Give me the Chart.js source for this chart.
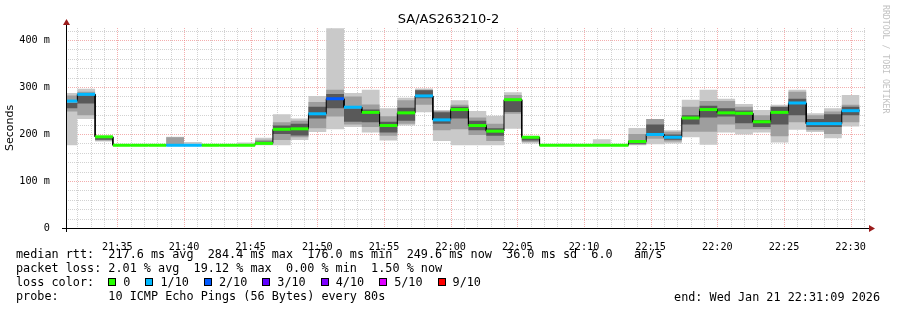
<!DOCTYPE html>
<html>
<head>
<meta charset="utf-8">
<title>SA/AS263210-2</title>
<script src="https://cdn.jsdelivr.net/npm/chart.js@4.4.1/dist/chart.umd.min.js"></script>
<style>
  html, body { margin: 0; padding: 0; background: #fff; }
  #wrap { position: relative; width: 897px; height: 310px; overflow: hidden; }
  #wrap canvas { position: absolute; left: 0; top: 0; }
  .title { position: absolute; left: 0; top: 11px; width: 897px; text-align: center;
           font: 13px 'DejaVu Sans', sans-serif; line-height: 16px; color: #000; }
  .legend { position: absolute; left: 16px; top: 247px; font: 11.8px 'DejaVu Sans Mono', monospace;
            line-height: 14.15px; white-space: pre; color: #000; }
  .legend .box { display: inline-block; width: 6px; height: 6px; border: 1px solid #000;
                 vertical-align: middle; margin: 0 7px 0 0; position: relative; top: -1px; }
  .legend .lbl { margin-right: 15px; }
  .end { position: absolute; right: 17px; top: 289.5px; font: 11.8px 'DejaVu Sans Mono', monospace;
         line-height: 14.15px; white-space: pre; color: #000; }
  .mark { position: absolute; left: 881px; top: 5px; writing-mode: vertical-rl;
          font: 8.2px 'DejaVu Sans Mono', monospace; color: #c2c2c2; white-space: pre; }
</style>
</head>
<body>
<div id="wrap">
  <canvas id="smoke" width="897" height="310"></canvas>
  <div class="title">SA/AS263210-2</div>
  <div class="mark">RRDTOOL / TOBI OETIKER</div>
  <div class="legend" id="legend"></div>
  <div class="end">end: Wed Jan 21 22:31:09 2026</div>
</div>
<script>
// smokeping style latency graph, one probe step = 80 s

const CHART_START = '21:31:09';
const CHART_SPAN = 3600;          // seconds on the x axis
const STEP = 80;                  // probe interval
const FIRST_STEP_END = '21:32:00';
const Y_MAX = 425.5;              // ms

const xTickLabels = ['21:35', '21:40', '21:45', '21:50', '21:55', '22:00',
                     '22:05', '22:10', '22:15', '22:20', '22:25', '22:30'];
const yTickValues = [0, 100, 200, 300, 400];
const yTickLabels = ['0', '100 m', '200 m', '300 m', '400 m'];

// median rtt per step (ms)
const medianMs = [270, 284.4, 194, 176, 176, 176, 176, 176, 176, 176,
                  176, 180, 210, 211, 243, 275, 257, 246, 218, 245,
                  281, 230, 252, 218, 206, 273, 193, 176, 176, 176,
                  176, 176, 184, 199, 193, 234, 252, 245, 244, 226,
                  246, 266, 222, 222, 249.6];
// lost pings out of 10 per step
const lossTenths = [1, 1, 0, 0, 0, 0, 1, 1, 0, 0,
                    0, 0, 0, 0, 1, 2, 1, 0, 0, 0,
                    1, 1, 0, 0, 0, 0, 0, 0, 0, 0,
                    0, 0, 0, 1, 1, 0, 0, 0, 0, 0,
                    0, 1, 1, 1, 1];
// smoke: spread of the individual pings (outer = all, mid, core = around median)
const smokeOuterLo = [176, 232, 184, 176, 176, 176, 176, 176, 176, 176,
                      176, 176, 176, 187, 204, 210, 215, 203, 186, 218,
                      246, 185, 176, 176, 176, 211, 180, 176, 176, 176,
                      176, 176, 176, 178, 180, 193, 177, 203, 199, 203,
                      182, 209, 204, 191, 216];
const smokeOuterHi = [287, 296, 196, 176, 176, 176, 194, 183, 176, 176,
                      182, 192, 242, 233, 281, 425, 287, 294, 255, 277,
                      297, 251, 272, 249, 239, 289, 196, 176, 179, 176,
                      189, 176, 213, 232, 208, 273, 294, 275, 264, 251,
                      262, 294, 244, 255, 283];
const smokeMidLo = [248, 240, 186, 176, 176, 176, 176, 176, 176, 176,
                    176, 178, 187, 193, 212, 237, 220, 215, 196, 222,
                    262, 208, 210, 198, 185, 243, 183, 176, 176, 176,
                    176, 176, 177, 190, 184, 205, 205, 220, 210, 210,
                    195, 225, 208, 200, 225];
const smokeMidHi = [282, 290, 195, 176, 176, 176, 193, 176, 176, 176,
                    176, 188, 225, 228, 268, 294, 280, 263, 238, 272,
                    294, 249, 262, 235, 222, 283, 194, 176, 176, 176,
                    176, 176, 200, 232, 205, 258, 270, 270, 258, 240,
                    258, 290, 240, 248, 262];
const smokeCoreLo = [255, 265, 188, 176, 176, 176, 176, 176, 176, 176,
                     176, 179, 200, 197, 233, 255, 226, 225, 203, 228,
                     276, 222, 233, 208, 196, 247, 186, 176, 176, 176,
                     176, 176, 179, 200, 188, 220, 235, 237, 223, 215,
                     220, 240, 215, 215, 240];
const smokeCoreHi = [266, 282, 193, 176, 176, 176, 176, 176, 176, 176,
                     176, 184, 218, 222, 258, 285, 254, 252, 226, 256,
                     293, 246, 258, 228, 212, 270, 192, 176, 176, 176,
                     176, 176, 186, 220, 199, 240, 260, 255, 250, 230,
                     258, 275, 232, 242, 258];

const LOSS_COLORS = { 0: '#26ff00', 1: '#00b8ff', 2: '#0059ff', 3: '#5e00ff',
                      4: '#7e00ff', 5: '#dd00ff', 9: '#ff0000' };
const legendLoss = [0, 1, 2, 3, 4, 5, 9];

function toSec(hms) {
  const p = hms.split(':').map(Number);
  return p[0] * 3600 + p[1] * 60 + (p[2] || 0);
}
const t0 = toSec(CHART_START);
const firstEnd = toSec(FIRST_STEP_END) - t0;

function stepStart(k) { return Math.max(0, firstEnd + (k - 1) * STEP); }
function stepEnd(k) { return firstEnd + k * STEP; }

// two points per step so the line holds the value across the whole interval
function stepSeries(values) {
  const pts = [];
  values.forEach((v, k) => {
    pts.push({ x: stepStart(k), y: v }, { x: stepEnd(k), y: v });
  });
  return pts;
}

function band(hi, lo, color, order) {
  const common = { borderWidth: 0, borderColor: 'transparent', pointRadius: 0, tension: 0, order };
  return [
    { ...common, data: stepSeries(hi), fill: false },
    { ...common, data: stepSeries(lo), fill: '-1', backgroundColor: color },
  ];
}

// rrdtool-ish dotted grid + arrowed axes
const MAJOR_GRID = 'rgba(235,120,120,0.6)';
const MINOR_GRID = 'rgba(165,165,165,0.5)';

const rrdGrid = {
  id: 'rrdGrid',
  beforeDatasetsDraw(chart) {
    const { ctx, chartArea: a, scales: { x, y } } = chart;
    ctx.save();
    ctx.lineWidth = 1;
    ctx.setLineDash([1, 1]);
    for (let v = 20; v <= Y_MAX; v += 20) {
      const py = Math.round(y.getPixelForValue(v)) + 0.5;
      ctx.strokeStyle = v % 100 === 0 ? MAJOR_GRID : MINOR_GRID;
      ctx.beginPath(); ctx.moveTo(a.left, py); ctx.lineTo(a.right, py); ctx.stroke();
    }
    const firstMin = Math.ceil(t0 / 60) * 60 - t0;
    for (let t = firstMin; t < CHART_SPAN; t += 60) {
      const px = Math.round(x.getPixelForValue(t)) + 0.5;
      const minute = Math.round((t0 + t) / 60) % 60;
      ctx.strokeStyle = minute % 5 === 0 ? MAJOR_GRID : MINOR_GRID;
      ctx.beginPath(); ctx.moveTo(px, a.top); ctx.lineTo(px, a.bottom); ctx.stroke();
    }
    ctx.restore();
  },
  afterDraw(chart) {
    const { ctx, chartArea: a } = chart;
    const bx = Math.round(a.bottom) + 0.5;
    const lx = Math.round(a.left) + 0.5;
    ctx.save();
    ctx.strokeStyle = '#000';
    ctx.lineWidth = 1;
    ctx.beginPath();
    ctx.moveTo(a.left - 4, bx); ctx.lineTo(a.right + 3, bx);
    ctx.moveTo(lx, a.bottom + 4); ctx.lineTo(lx, a.top - 3);
    ctx.stroke();
    ctx.fillStyle = '#9b1c1c';
    ctx.beginPath();
    ctx.moveTo(a.right + 3, bx - 3.5); ctx.lineTo(a.right + 9, bx); ctx.lineTo(a.right + 3, bx + 3.5);
    ctx.closePath(); ctx.fill();
    ctx.beginPath();
    ctx.moveTo(lx - 3.5, a.top - 3); ctx.lineTo(lx, a.top - 9); ctx.lineTo(lx + 3.5, a.top - 3);
    ctx.closePath(); ctx.fill();
    ctx.restore();
  },
};

const axisFont = { family: "'DejaVu Sans Mono', monospace", size: 10.2 };

new Chart(document.getElementById('smoke'), {
  type: 'line',
  data: {
    datasets: [
      ...band(smokeOuterHi, smokeOuterLo, '#c9c9c9', 5),
      ...band(smokeMidHi, smokeMidLo, '#9e9e9e', 4),
      ...band(smokeCoreHi, smokeCoreLo, '#595959', 3),
      {
        data: stepSeries(medianMs), borderColor: '#000', borderWidth: 1,
        pointRadius: 0, tension: 0, fill: false, order: 1,
      },
      {
        data: stepSeries(medianMs), borderWidth: 3, borderCapStyle: 'butt',
        pointRadius: 0, tension: 0, fill: false, order: 0,
        segment: {
          borderColor: (c) => c.p0DataIndex % 2 === 0
            ? LOSS_COLORS[lossTenths[c.p0DataIndex / 2]] : 'transparent',
        },
      },
    ],
  },
  options: {
    responsive: false,
    animation: false,
    events: [],
    layout: { padding: { top: 28, right: 31, left: 0, bottom: 0 } },
    plugins: { legend: { display: false }, tooltip: { enabled: false } },
    scales: {
      x: {
        type: 'linear', min: 0, max: CHART_SPAN,
        grid: { display: false }, border: { display: false },
        afterFit: (s) => { s.height = 82; },
        afterBuildTicks: (s) => { s.ticks = xTickLabels.map((l) => ({ value: toSec(l) - t0 })); },
        ticks: {
          autoSkip: false, maxRotation: 0, padding: 5, color: '#000', font: axisFont,
          callback: (v, i) => xTickLabels[i],
        },
      },
      y: {
        min: 0, max: Y_MAX,
        grid: { display: false }, border: { display: false },
        afterFit: (s) => { s.width = 66; },
        afterBuildTicks: (s) => { s.ticks = yTickValues.map((v) => ({ value: v })); },
        ticks: {
          autoSkip: false, padding: 8, color: '#000', font: axisFont,
          callback: (v, i) => yTickLabels[i],
        },
        title: {
          display: true, text: 'Seconds', color: '#000',
          font: { family: "'DejaVu Sans', sans-serif", size: 11 },
          padding: { top: 4, bottom: 0 },
        },
      },
    },
  },
  plugins: [rrdGrid],
});

// legend block under the graph
const legendRows = [
  'median rtt:  217.6 ms avg  284.4 ms max  176.0 ms min  249.6 ms now  36.0 ms sd  6.0   am/s',
  'packet loss: 2.01 % avg  19.12 % max  0.00 % min  1.50 % now',
];
const lossRow = 'loss color:  ' + legendLoss.map((n) =>
  `<span class="box" style="background:${LOSS_COLORS[n]}"></span><span class="lbl">${n === 0 ? '0' : n + '/10'}</span>`
).join('');
document.getElementById('legend').innerHTML =
  legendRows.join('\n') + '\n' + lossRow + '\n' +
  'probe:       10 ICMP Echo Pings (56 Bytes) every 80s';
</script>
</body>
</html>
